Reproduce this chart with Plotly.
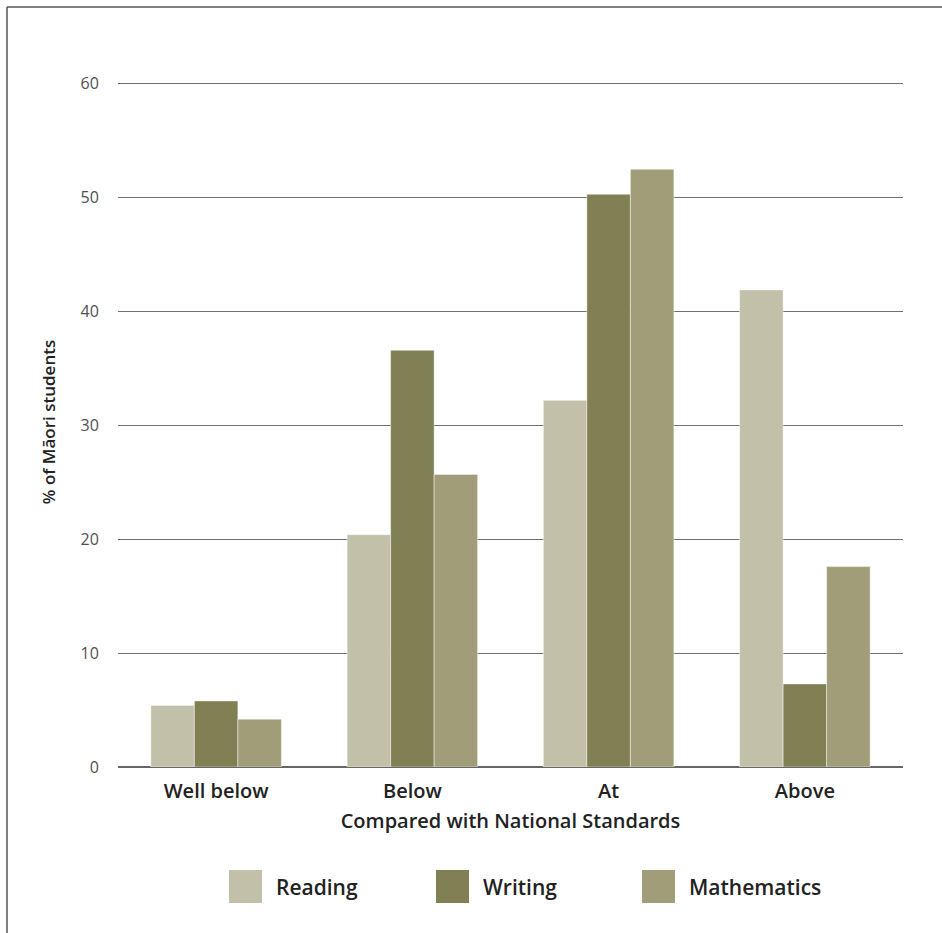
import plotly.graph_objects as go

# Share of Māori students at each level relative to National Standards
categories = ["Well below", "Below", "At", "Above"]
reading = [5.4, 20.4, 32.2, 41.9]
writing = [5.8, 36.6, 50.3, 7.3]
mathematics = [4.2, 25.7, 52.5, 17.6]

series_names = ["Reading", "Writing", "Mathematics"]
series_values = [reading, writing, mathematics]
series_colors = ["#C2C0A8", "#817F54", "#A09D78"]

y_ticks = [0, 10, 20, 30, 40, 50, 60]
Y_MAX = 60.6

FONT = "Open Sans"
W, H = 942, 933
L, R, T, B = 118, 39, 77, 166

fig = go.Figure()
for name, vals, col in zip(series_names, series_values, series_colors):
    fig.add_trace(go.Bar(
        x=categories, y=vals, name=name,
        marker=dict(color=col, line=dict(color="rgba(255,255,255,0.45)", width=1)),
        showlegend=False,
    ))

pw = W - L - R
ph = H - T - B


def px_x(p):
    return (p - L) / pw


def px_y(p):
    return (H - B - p) / ph


shapes = [
    # outer frame (top and left edges)
    dict(type="line", xref="paper", yref="paper",
         x0=px_x(7), x1=px_x(945), y0=px_y(7), y1=px_y(7),
         line=dict(color="#555555", width=1.5)),
    dict(type="line", xref="paper", yref="paper",
         x0=px_x(7), x1=px_x(7), y0=px_y(7), y1=px_y(940),
         line=dict(color="#555555", width=1.5)),
]
annotations = []

# legend swatches and labels
legend_x = [229, 436, 642]
for lx, name, col in zip(legend_x, series_names, series_colors):
    shapes.append(dict(type="rect", xref="paper", yref="paper",
                       x0=px_x(lx), x1=px_x(lx + 33), y0=px_y(870), y1=px_y(903),
                       fillcolor=col, line=dict(width=0)))
    annotations.append(dict(xref="paper", yref="paper", x=px_x(lx + 45), y=px_y(887),
                            xanchor="left", yanchor="middle", showarrow=False,
                            text=name, font=dict(family=FONT, size=21, color="#222222", weight=600)))

fig.update_layout(
    width=W, height=H,
    margin=dict(l=L, r=R, t=T, b=B),
    paper_bgcolor="white", plot_bgcolor="white",
    barmode="group", bargap=0.335, bargroupgap=0,
    font=dict(family=FONT, color="#333333"),
    xaxis=dict(
        showgrid=False, ticks="", showline=False,
        ticklabelstandoff=10,
        tickfont=dict(family=FONT, size=20, color="#222222", weight=600),
        title=dict(text="Compared with National Standards", standoff=10,
                   font=dict(family=FONT, size=20, color="#222222", weight=600)),
    ),
    yaxis=dict(
        range=[0, Y_MAX], tickvals=y_ticks, ticktext=[str(v) for v in y_ticks],
        showgrid=True, gridcolor="#707070", gridwidth=1.4,
        zeroline=True, zerolinecolor="#666666", zerolinewidth=2,
        ticks="outside", ticklen=15, tickcolor="rgba(0,0,0,0)",
        tickfont=dict(family=FONT, size=16, color="#505050"),
        title=dict(text="% of Māori students", standoff=20,
                   font=dict(family=FONT, size=17, color="#222222", weight=600)),
    ),
    shapes=shapes,
    annotations=annotations,
)

fig.write_html("out.html")
